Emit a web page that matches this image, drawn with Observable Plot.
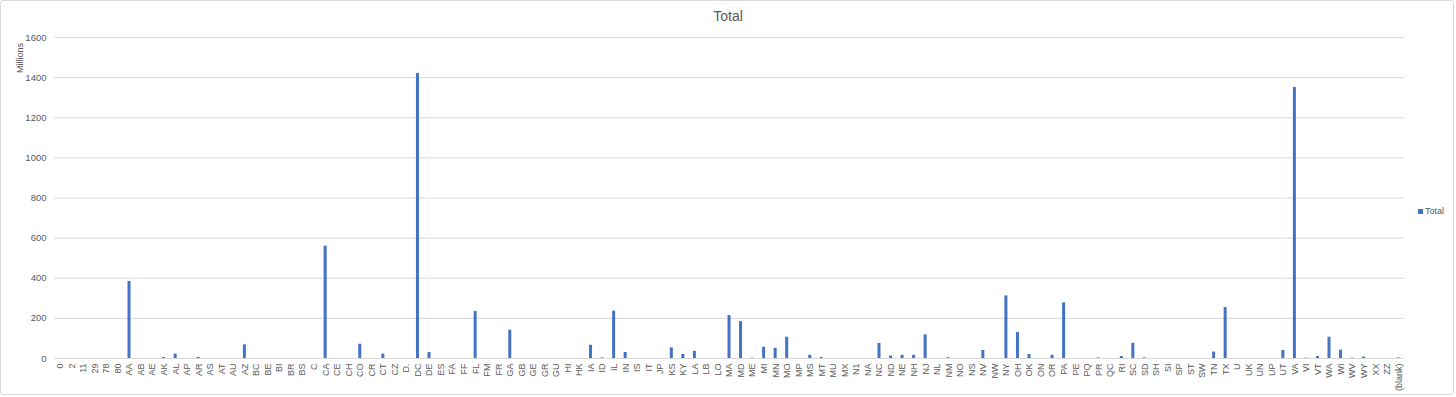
<!DOCTYPE html>
<html>
<head>
<meta charset="utf-8">
<script src="https://cdn.jsdelivr.net/npm/d3@7"></script>
<script src="https://cdn.jsdelivr.net/npm/@observablehq/plot@0.6"></script>
<style>
  html, body { margin: 0; padding: 0; background: #fff; }
  #wrap { position: relative; width: 1456px; height: 397px; font-family: "Liberation Sans", Arial, sans-serif; }
  #frame { position: absolute; left: 0; top: 0; width: 1452px; height: 393px; border: 1px solid #d9d9d9; border-radius: 3px; pointer-events: none; }
  #title { position: absolute; left: 0; width: 1456px; top: 8px; text-align: center; font-size: 14px; color: #595959; }
  #ylabel { position: absolute; left: 15px; top: 73px; transform-origin: 0 0; transform: rotate(-90deg); font-size: 9px; color: #595959; white-space: nowrap; }
  #legend { position: absolute; left: 1418px; top: 206px; font-size: 9px; color: #595959; display: flex; align-items: center; gap: 2px; }
  #legend span.sw { display: inline-block; width: 5px; height: 5px; background: #4472c4; }
</style>
</head>
<body>
<div id="wrap">
  <div id="chart"></div>
  <div id="title">Total</div>
  <div id="ylabel">Millions</div>
  <div id="legend"><span class="sw"></span><span>Total</span></div>
  <div id="frame"></div>
</div>
<script>
const categories = ["0","2","11","29","78","80","AA","AB","AE","AK","AL","AP","AR","AS","AT","AU","AZ","BC","BE","BI","BR","BS","C","CA","CE","CH","CO","CR","CT","CZ","D.","DC","DE","ES","FA","FF","FL","FM","FR","GA","GB","GE","GR","GU","HI","HK","IA","ID","IL","IN","IS","IT","JP","KS","KY","LA","LB","LO","MA","MD","ME","MI","MN","MO","MP","MS","MT","MU","MX","N1","NA","NC","ND","NE","NH","NJ","NL","NM","NO","NS","NV","NW","NY","OH","OK","ON","OR","PA","PE","PQ","PR","QC","RI","SC","SD","SH","SI","SP","ST","SW","TN","TX","U","UK","UN","UP","UT","VA","VI","VT","WA","WI","WV","WY","XX","ZZ","(blank)"];
const values = [0,0,0,0,0,0,384,0,0,5,22,0,5,0,0,0,68,0,0,0,0,0,0,560,0,0,71,0,22,0,0,1421,30,0,0,0,234,0,0,141,0,0,0,0,0,0,66,3,236,30,0,0,0,53,20,36,0,0,214,184,2,56,51,106,0,16,5,0,0,0,0,75,12,16,16,118,0,4,0,0,40,0,312,130,20,0,16,277,0,0,3,0,10,76,3,0,0,0,0,0,32,254,0,0,0,0,40,1351,2,10,106,41,2,7,0,0,3];
const yTicks = [0,200,400,600,800,1000,1200,1400,1600];

const data = categories.map((c, i) => ({cat: c, value: values[i]}));

const chart = Plot.plot({
  width: 1456,
  height: 397,
  marginLeft: 54,
  marginRight: 52,
  marginTop: 37,
  marginBottom: 39,
  style: {fontFamily: "'Liberation Sans', Arial, sans-serif", fontSize: "10px", color: "#595959", background: "transparent"},
  x: {domain: categories, paddingInner: 0.74, paddingOuter: 0.37, align: 0.5, label: null},
  y: {domain: [0, 1600], label: null},
  marks: [
    Plot.gridY(yTicks, {stroke: "#d9d9d9", strokeOpacity: 1}),
    Plot.barY(data, {x: "cat", y: "value", fill: "#4472c4"}),
    Plot.axisY(yTicks, {tickSize: 0, tickPadding: 8, fontSize: 9.5, fill: "#595959", tickFormat: d3.format("d")}),
    Plot.axisX({tickSize: 0, tickPadding: 5, tickRotate: -90, fontSize: 9, fill: "#595959", label: null})
  ]
});
document.getElementById("chart").appendChild(chart);
</script>
</body>
</html>
